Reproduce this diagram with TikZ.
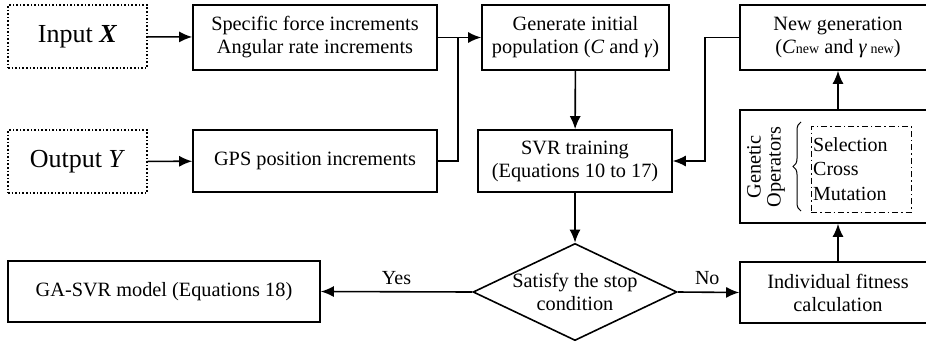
\documentclass[tikz,border=0pt]{standalone}
\usepackage{fontspec}
\setmainfont{Liberation Serif}
\usetikzlibrary{
    calc,
    arrows.meta,
    positioning,
    shapes.geometric,
    decorations.pathreplacing,
}

\tikzset{
    blk/.style={draw, line width=1.6pt, align=center, inner sep=2pt,
        font=\fontsize{20.3}{23}\selectfont},
    srcblk/.style={blk, dotted, line width=1.2pt, font=\fontsize{26}{28}\selectfont},
    decide/.style={diamond, draw, line width=1.6pt, align=center, aspect=2.1,
        inner sep=0pt, font=\fontsize{20.3}{23}\selectfont},
    flow/.style={line width=1.6pt, -{Latex[length=13pt, width=11pt]}},
    plain/.style={line width=1.6pt},
}

\begin{document}
\begin{tikzpicture}[x=1pt, y=-1pt]
        \useasboundingbox (0,0) rectangle (926,343);

        \node[srcblk, minimum width=139pt, minimum height=63pt] (inX) at (77.5,36.5) {Input \textbf{\textit{X}}};
        \node[srcblk, minimum width=139pt, minimum height=63pt] (inY) at (77.5,161.5) {Output \textit{Y}};

        \node[blk, minimum width=244pt, minimum height=65pt] (incr) at (315,37.5) {Specific force increments\\Angular rate increments};
        \node[blk, minimum width=244pt, minimum height=62pt] (gps) at (315,161) {GPS position increments};

        \node[blk, minimum width=187pt, minimum height=65pt] (init) at (575.5,37.5) {Generate initial\\population (\textit{C} and \textit{γ})};
        \node[blk, minimum width=194pt, minimum height=62pt] (svr) at (575,161) {SVR training\\(Equations 10 to 17)};
        \node[decide, minimum width=195pt, minimum height=91pt] (cond) at (575,292) {Satisfy the stop\\condition};

        \node[blk, minimum width=312pt, minimum height=61pt] (model) at (164,291.5) {GA-SVR model (Equations 18)};

        % right column runs past the page edge
        \node[blk, minimum width=196pt, minimum height=65pt] (newgen) at (838,37.5) {New generation\\(\textit{C}{\fontsize{14}{14}\selectfont new} and \textit{γ}\,{\fontsize{14}{14}\selectfont new})};
        \node[blk, minimum width=196pt, minimum height=113pt] (genop) at (838,166.5) {};
        \node[blk, minimum width=196pt, minimum height=61pt] (fit) at (838,292.5) {Individual fitness\\calculation};

        \node[rotate=90, align=center, font=\fontsize{20.3}{20}\selectfont] (gotitle) at (766,167) {Genetic\\Operators};
        \draw[line width=1pt, decorate, decoration={brace, amplitude=8pt}] (801,211) -- (801,122);
        \node[draw, line width=0.8pt, dash pattern=on 6pt off 3pt on 1.5pt off 3pt, minimum width=100pt, minimum height=86pt] (opbox) at (861,169) {};
        \node[align=left, font=\fontsize{20}{24.5}\selectfont, inner sep=0pt, anchor=west] (ops) at (813,169) {Selection\\Cross\\Mutation};

        \coordinate (merge) at (458,37.5);
        \draw[flow] (inX) -- (incr);
        \draw[flow] (inY) -- (gps);
        \draw[plain] (incr.east) -- (merge);
        \draw[plain] (gps.east) -| (merge);
        \draw[flow] (merge) -- (init.west);

        \draw[flow] (init) -- (svr);
        \draw[flow] (svr) -- (cond);
        \draw[flow] (newgen.west) -- ([xshift=-34pt]newgen.west) |- (svr.east);

        \draw[flow] (cond.west) -- node[above=3pt, font=\fontsize{20}{22}\selectfont] {Yes} (model.east);
        \draw[flow] (cond.east) -- node[above=3pt, pos=0.48, font=\fontsize{20}{22}\selectfont] {No} (fit.west);

        \draw[flow] (fit) -- (genop);
        \draw[flow] (genop) -- (newgen);
    \end{tikzpicture}
\end{document}
